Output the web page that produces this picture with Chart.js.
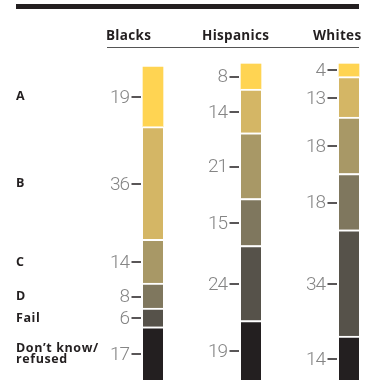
<!DOCTYPE html>
<html>
<head>
<meta charset="utf-8">
<script src="https://cdn.jsdelivr.net/npm/chart.js@4.4.1/dist/chart.umd.min.js"></script>
<style>
  html, body { margin: 0; padding: 0; background: #fff; }
  canvas { display: block; }
</style>
</head>
<body>
<canvas id="grades" width="373" height="392"></canvas>
<script>
// Groups (columns) and grade rows, top to bottom
const groups = ['Blacks', 'Hispanics', 'Whites'];
const grades = ['A', 'B', 'C', 'D', 'Fail', "Don't know/refused"];
const gradeLabels = [['A'], ['B'], ['C'], ['D'], ['Fail'], ["Don\u2019t know/", 'refused']];

// Percent per group, listed per grade
const gradeA = [19, 8, 4];
const gradeB = [36, 14, 13];
const gradeC = [14, 21, 18];
const gradeD = [8, 15, 18];
const gradeFail = [6, 24, 34];
const gradeDontKnow = [17, 19, 14];

const gradeColors = ['#ffd452', '#d4b665', '#a89866', '#7f775e', '#56524a', '#231f20'];

const rows = [gradeA, gradeB, gradeC, gradeD, gradeFail, gradeDontKnow];

// Chart.js stacks from the bottom up, so reverse the rows
const datasets = rows.map((data, i) => ({
    label: grades[i],
    data: data,
    backgroundColor: gradeColors[i],
    borderColor: '#ffffff',
    borderWidth: i === 0 ? 0 : { top: 2, bottom: 0, left: 0, right: 0 },
    borderSkipped: false,
    barThickness: 20,
    clip: false,
    rowIndex: i
})).reverse();

const NUM_FONT = '300 19px Roboto, "Liberation Sans", sans-serif';
const LABEL_FONT = 'bold 12.5px "Open Sans", "Liberation Sans", sans-serif';
const HEAD_FONT = 'bold 13.5px "Open Sans", "Liberation Sans", sans-serif';

/**
 * Draws the header rule, group titles, row labels and value ticks
 */
const decorations = {
    id: 'decorations',
    afterDatasetsDraw(chart) {
        const ctx = chart.ctx;
        ctx.save();

        // Heavy rule across the top
        ctx.fillStyle = '#231f20';
        ctx.fillRect(16, 4, 343, 5);

        // Group headings
        ctx.font = HEAD_FONT;
        ctx.fillStyle = '#231f20';
        ctx.textBaseline = 'alphabetic';
        ctx.textAlign = 'left';
        ctx.letterSpacing = '0.3px';
        const headX = [106, 202, 313];
        groups.forEach((g, i) => ctx.fillText(g, headX[i], 40));
        ctx.letterSpacing = '0px';

        // Thin line under headings
        ctx.fillStyle = '#555';
        ctx.fillRect(107, 47, 252, 1);

        // Value labels with tick dashes
        chart.data.datasets.forEach((ds, d) => {
            const meta = chart.getDatasetMeta(d);
            meta.data.forEach((el, i) => {
                const top = Math.min(el.y, el.base);
                const bottom = Math.max(el.y, el.base);
                const cy = ds.rowIndex === 0 ? (top + bottom) / 2 : (top + 2 + bottom) / 2;
                const left = el.x - el.width / 2;

                ctx.fillStyle = '#231f20';
                ctx.fillRect(left - 11.5, Math.round(cy) - 0.75, 9.5, 1.5);

                ctx.font = NUM_FONT;
                ctx.fillStyle = '#858585';
                ctx.textAlign = 'right';
                ctx.textBaseline = 'middle';
                ctx.letterSpacing = '-1px';
                ctx.fillText(String(ds.data[i]), left - 14, cy + 1);
                ctx.letterSpacing = '0px';

                // Row labels sit level with the first column's segments
                if (i === 0) {
                    ctx.font = LABEL_FONT;
                    ctx.fillStyle = '#231f20';
                    ctx.textAlign = 'left';
                    ctx.letterSpacing = '0.6px';
                    const lines = gradeLabels[ds.rowIndex];
                    const lineH = 11;
                    lines.forEach((line, k) => {
                        const ly = cy + (k - (lines.length - 1) / 2) * lineH;
                        ctx.fillText(line, 16, ly);
                    });
                    ctx.letterSpacing = '0px';
                }
            });
        });

        ctx.restore();
    }
};

new Chart(document.getElementById('grades'), {
    type: 'bar',
    data: {
        labels: groups,
        datasets: datasets
    },
    options: {
        responsive: false,
        animation: false,
        layout: {
            padding: { left: 153, right: 24, top: 64, bottom: 12 }
        },
        plugins: {
            legend: { display: false },
            tooltip: { enabled: false }
        },
        scales: {
            x: {
                stacked: true,
                offset: false,
                display: false
            },
            y: {
                stacked: true,
                min: 0,
                max: 101,
                display: false
            }
        }
    },
    plugins: [decorations]
});
</script>
</body>
</html>
